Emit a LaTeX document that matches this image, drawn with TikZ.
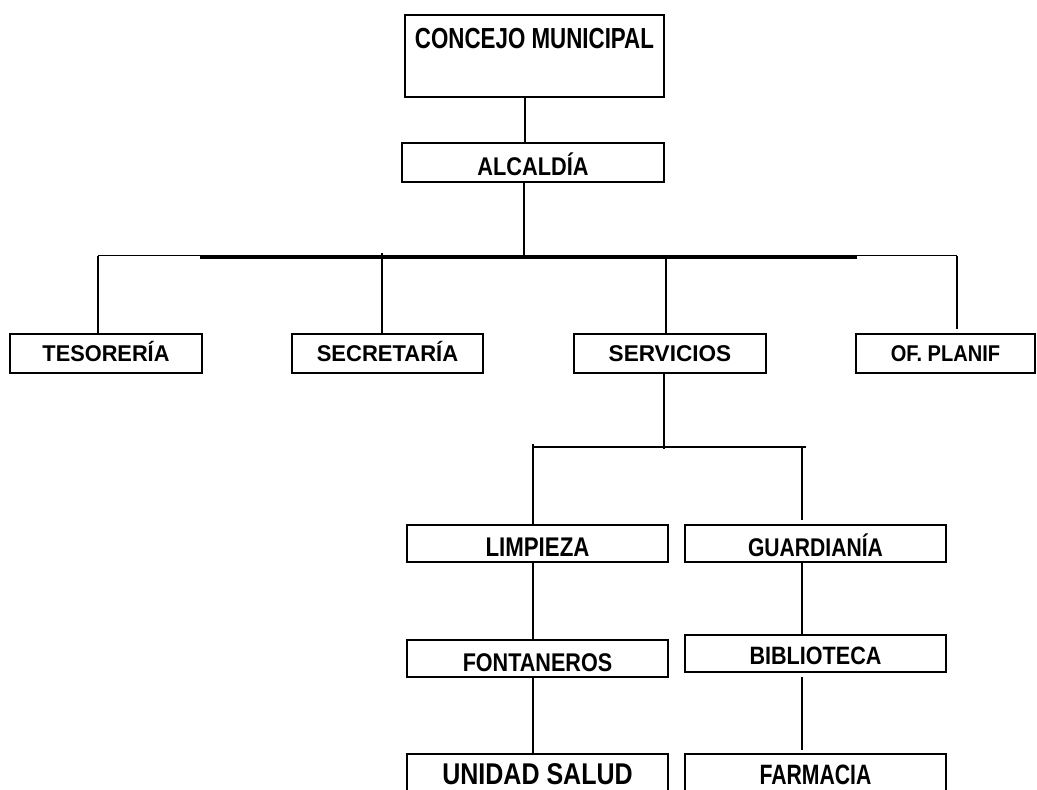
\documentclass[tikz,border=0pt]{standalone}
\usepackage{fontspec}
\usepackage{graphicx}
\setmainfont{Liberation Sans}
\newcommand\tx[3]{\fontsize{#1}{#1}\selectfont\scalebox{#2}[1]{#3}}
\tikzset{
  box/.style={draw, line width=1.6pt, inner sep=0pt, font=\bfseries, text depth=0pt},
  boxb/.style={box, line width=2.2pt, minimum height=39, text height=16.3pt},
  low/.style={box, minimum width=261},
  conn/.style={line width=1.4pt},
  bus/.style={line width=3.5pt},
}
\begin{document}
\begin{tikzpicture}[x=1pt,y=-1pt]
\useasboundingbox (0,0) rectangle (1037,790);
% boxes
\node[box, minimum width=259, minimum height=82, text height=20.8pt, text depth=35pt] (cm) at (534.5,56) {\tx{29}{0.77}{CONCEJO MUNICIPAL}};
\node[box, minimum width=262, minimum height=39, text height=25.3pt] (al) at (533,162.5) {\tx{25.6}{0.85}{ALCALDÍA}};
\node[boxb, minimum width=192] (tes) at (106,353.5) {\tx{22.8}{0.955}{TESORERÍA}};
\node[boxb, minimum width=191] (sec) at (387.5,353.5) {\tx{22.8}{0.965}{SECRETARÍA}};
\node[boxb, minimum width=192] (ser) at (670,353.5) {\tx{22.8}{0.99}{SERVICIOS}};
\node[boxb, minimum width=179] (ofp) at (945.5,353.5) {\tx{22.8}{0.88}{OF. PLANIF}};
\node[low, minimum height=37, text height=26.3pt] (lim) at (537.5,543.5) {\tx{27}{0.825}{LIMPIEZA}};
\node[low, minimum height=37, text height=26.3pt] (gua) at (815.5,543.5) {\tx{25.6}{0.825}{GUARDIANÍA}};
\node[low, minimum height=37, text height=25.3pt] (fon) at (537.5,658.5) {\tx{25.6}{0.843}{FONTANEROS}};
\node[low, minimum height=37, text height=21pt] (bib) at (815.5,653.5) {\tx{25.1}{0.86}{BIBLIOTECA}};
\node[low, minimum height=56, text height=21.5pt, text depth=17pt] (uni) at (537.5,782) {\tx{30}{0.834}{UNIDAD SALUD}};
\node[low, minimum height=56, text height=20pt, text depth=15pt] (far) at (815.5,782) {\tx{28}{0.757}{FARMACIA}};
% junction coordinates
\coordinate (c1) at (525,0);
\coordinate (c2) at (524,0);
\coordinate (bl) at (98,255.5);
\coordinate (br) at (957,255.5);
\coordinate (tl) at (200,257);
\coordinate (tr) at (857,257);
\coordinate (xs) at (382,253);
\coordinate (xv) at (666,255);
\coordinate (xd) at (664,0);
\coordinate (sl) at (533,447);
\coordinate (sr) at (806,447);
\coordinate (xr) at (802,0);
% connectors
\draw[conn] (cm.south -| c1) -- (al.north -| c1);
\draw[conn] (al.south -| c2) -- (c2 |- tl);
\draw[conn] (bl) -- (br);
\draw[bus] (tl) -- (tr);
\draw[conn] (bl) -- (tes.north -| bl);
\draw[conn] (xs) -- (sec.north -| xs);
\draw[conn] (xv) -- (ser.north -| xv);
\draw[conn] (br) -- ([yshift=4pt]ofp.north -| br);
\draw[conn] (ser.south -| xd) -- ([yshift=-2pt]xd |- sl);
\draw[conn] (sl) -- (sr);
\draw[conn] ([yshift=3pt]sl) -- (lim.north -| sl);
\draw[conn] (xr |- sl) -- ([yshift=4pt]gua.north -| xr);
\draw[conn] (lim.south -| sl) -- (fon.north -| sl);
\draw[conn] (fon.south -| sl) -- (uni.north -| sl);
\draw[conn] (gua.south -| xr) -- (bib.north -| xr);
\draw[conn] ([yshift=-4pt]bib.south -| xr) -- ([yshift=3pt]far.north -| xr);
\end{tikzpicture}
\end{document}
